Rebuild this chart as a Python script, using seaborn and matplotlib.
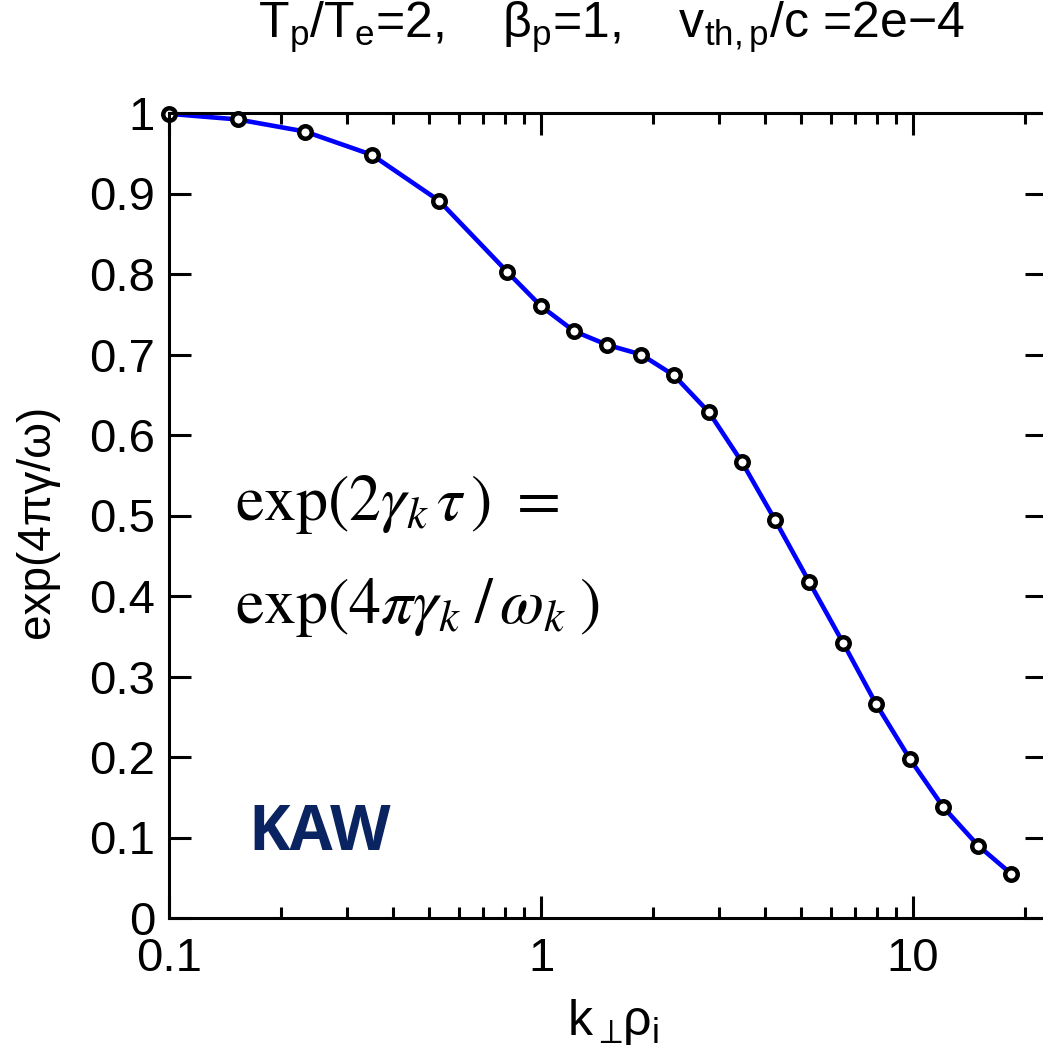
import matplotlib
matplotlib.use("Agg")
import matplotlib.pyplot as plt
import matplotlib.ticker as mticker
import numpy as np
import pandas as pd
import seaborn as sns

# values
k_perp_rho = [0.1, 0.153, 0.232, 0.351, 0.532, 0.81, 1.0, 1.227, 1.505, 1.857,
              2.278, 2.83, 3.47, 4.26, 5.25, 6.48, 7.95, 9.82, 12.04, 14.95, 18.34]
growth = [0.999, 0.992, 0.977, 0.948, 0.891, 0.803, 0.760, 0.729, 0.712, 0.700,
          0.674, 0.628, 0.566, 0.494, 0.418, 0.342, 0.266, 0.197, 0.138, 0.090, 0.055]
x_ticks = [0.1, 1, 10]
y_ticks = [0, 0.1, 0.2, 0.3, 0.4, 0.5, 0.6, 0.7, 0.8, 0.9, 1]

df = pd.DataFrame({"k": k_perp_rho, "g": growth})

sns.set_theme(style="ticks")
plt.rcParams["font.family"] = ["Liberation Sans", "DejaVu Sans"]
plt.rcParams["text.color"] = "black"
plt.rcParams["mathtext.fontset"] = "custom"
plt.rcParams["mathtext.rm"] = "Liberation Sans"
plt.rcParams["mathtext.it"] = "Liberation Sans:italic"
plt.rcParams["mathtext.bf"] = "Liberation Sans:bold"

W, H = 1043, 1061
fig = plt.figure(figsize=(W / 100, H / 100), dpi=100)
ax = fig.add_axes([169 / W, 1 - 918 / H, (1047 - 169) / W, (918 - 113) / H])

sns.lineplot(data=df, x="k", y="g", ax=ax, color="#0000ff", linewidth=3.3,
             marker="o", markersize=9, markerfacecolor="white",
             markeredgecolor="black", markeredgewidth=3.2, estimator=None,
             sort=False)
for ln in ax.lines:
    ln.set_clip_on(False)

ax.set_xscale("log")
ax.set_xlim(0.1, 22.9)
ax.set_ylim(0, 1)
ax.set_xticks(x_ticks)
ax.xaxis.set_major_formatter(mticker.FormatStrFormatter("%g"))
ax.xaxis.set_minor_locator(mticker.LogLocator(base=10, subs=np.arange(2, 10)))
ax.xaxis.set_minor_formatter(mticker.NullFormatter())
ax.set_yticks(y_ticks)
ax.yaxis.set_major_formatter(mticker.FormatStrFormatter("%g"))

for s in ax.spines.values():
    s.set_visible(True)
    s.set_linewidth(2.2)
    s.set_color("black")
ax.tick_params(which="both", direction="in", top=True, right=True,
               width=2.2, color="black", labelsize=34, labelcolor="black")
ax.tick_params(which="major", length=16)
ax.tick_params(axis="y", which="major", pad=10)
ax.tick_params(axis="x", which="major", pad=14)
ax.tick_params(which="minor", length=8)
ax.set_xlabel("")
ax.set_ylabel("")

# title and axis labels
fig.text(611 / W, 1 - 38 / H,
         r"$\mathrm{T_p/T_e}$=2,    $\mathrm{\beta_p}$=1,    $\mathrm{v_{th,p}}$/c =2e$-$4",
         ha="center", va="baseline", fontsize=36, color="black")
fig.text(613 / W, 1 - 1035 / H, r"$\mathrm{k_{\perp}\!\rho_i}$",
         ha="center", va="baseline", fontsize=36, color="black")
fig.text(37 / W, 1 - 521 / H, "exp(4πγ/ω)", rotation=90,
         ha="center", va="center", fontsize=33, color="black")

# annotations inside the plot
fig.text(235 / W, 1 - 520 / H, r"$\mathrm{exp}(2\gamma_{k}\,\tau\,)\ =$",
         fontsize=46, math_fontfamily="stix", va="baseline", color="black")
fig.text(235 / W, 1 - 623 / H, r"$\mathrm{exp}(4\pi\gamma_{k}\;/\,\omega_{k}\;)$",
         fontsize=46, math_fontfamily="stix", va="baseline", color="black")
fig.text(248 / W, 1 - 850 / H, "KAW", fontsize=45, fontweight="bold",
         family="Open Sans", color="#0a2462", va="baseline")

fig.savefig("out.png", dpi=100)
